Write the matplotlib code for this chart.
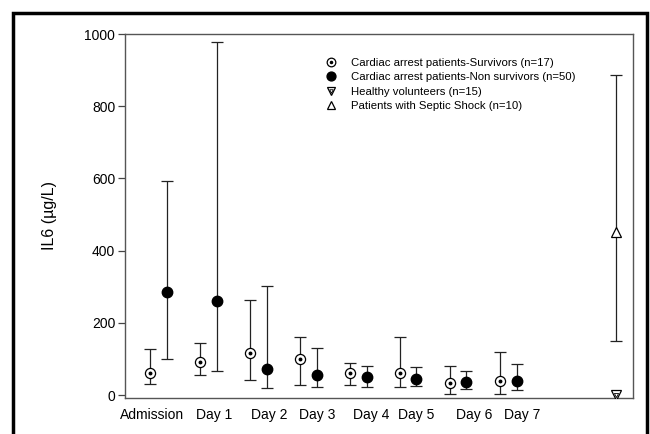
import matplotlib
matplotlib.use("Agg")
import matplotlib.pyplot as plt
from matplotlib.patches import Rectangle
import numpy as np

plt.rcParams['font.family'] = ['Liberation Sans', 'DejaVu Sans']

days = ["Admission", "Day 1", "Day 2", "Day 3", "Day 4", "Day 5", "Day 6", "Day 7"]
label_pos = [0.05, 1.29, 2.38, 3.35, 4.42, 5.33, 6.48, 7.44]

surv_mean = [60, 91, 116, 100, 62, 61, 33, 40]
surv_low = [30, 57, 41, 27, 27, 23, 3, 3]
surv_high = [127, 143, 264, 160, 88, 160, 81, 120]

non_mean = [286, 262, 72, 56, 51, 44, 37, 38]
non_low = [100, 68, 21, 23, 23, 26, 17, 14]
non_high = [594, 977, 303, 131, 81, 78, 68, 86]

septic_mean = [451]
septic_low = [149]
septic_high = [886]

healthy_mean = [-1]

x_surv = np.arange(len(days))
x_non = x_surv + 0.33
x_ref = 9.32

fig = plt.figure(figsize=(6.5, 4.34), dpi=100)
ax = fig.add_axes([125/650, 1-398/434, 508/650, (398-34)/434])

ecol = '#222222'
sm = np.array(surv_mean)
ax.errorbar(x_surv, sm, yerr=[sm - np.array(surv_low), np.array(surv_high) - sm],
            fmt='none', ecolor=ecol, elinewidth=0.9, capsize=4, capthick=0.9, zorder=2)
nm = np.array(non_mean)
ax.errorbar(x_non, nm, yerr=[nm - np.array(non_low), np.array(non_high) - nm],
            fmt='none', ecolor=ecol, elinewidth=0.9, capsize=4, capthick=0.9, zorder=2)
spm = np.array(septic_mean)
ax.errorbar([x_ref], spm, yerr=[spm - np.array(septic_low), np.array(septic_high) - spm],
            fmt='none', ecolor=ecol, elinewidth=0.9, capsize=4, capthick=0.9, zorder=2)

s1, = ax.plot(x_surv, surv_mean, 'o', ms=7.3, mfc='white', mec='black', mew=0.9, ls='none', zorder=3)
s2, = ax.plot(x_surv, surv_mean, 'o', ms=1.8, mfc='black', mec='black', ls='none', zorder=4)
n1, = ax.plot(x_non, non_mean, 'o', ms=7.5, mfc='black', mec='black', ls='none', zorder=3)
h1, = ax.plot([x_ref], healthy_mean, 'v', ms=7, mfc='white', mec='black', mew=0.9, ls='none', zorder=3)
h2, = ax.plot([x_ref], healthy_mean, 'v', ms=3, mfc='white', mec='black', mew=0.6, ls='none', zorder=4)
t1, = ax.plot([x_ref], septic_mean, '^', ms=7.5, mfc='white', mec='black', mew=0.9, ls='none', zorder=3)

ax.set_xlim(-0.5, 9.66)
ax.set_ylim(-8, 1000)
ax.set_yticks([0, 200, 400, 600, 800, 1000])
ax.set_xticks(label_pos)
ax.set_xticklabels(days)
ax.tick_params(axis='x', length=0, pad=7, labelsize=10)
ax.tick_params(axis='y', length=5, width=0.9, color='#444444', labelsize=10, pad=2)
for sp in ax.spines.values():
    sp.set_color('#555555')
    sp.set_linewidth(1.0)
ax.set_ylabel("IL6 (µg/L)", fontsize=11.5, labelpad=20)

leg = ax.legend([(s1, s2), n1, (h1, h2), t1],
                ["Cardiac arrest patients-Survivors (n=17)",
                 "Cardiac arrest patients-Non survivors (n=50)",
                 "Healthy volunteers (n=15)",
                 "Patients with Septic Shock (n=10)"],
                loc='upper left', bbox_to_anchor=(0.395, 0.935), frameon=False,
                fontsize=8.2, handlelength=1.0, handletextpad=1.2, labelspacing=0.4,
                borderaxespad=0, borderpad=0, markerscale=0.85)

fig.patches.append(Rectangle((13/650, -0.05), (647-13)/650, 1 - 13/434 + 0.05,
                             transform=fig.transFigure, fill=False, ec='black', lw=2.5))

fig.savefig("out.png", dpi=100)
